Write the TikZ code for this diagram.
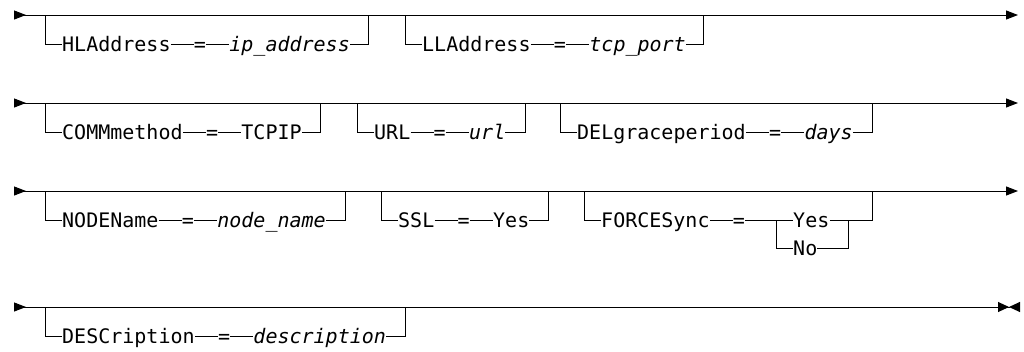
\documentclass[tikz,border=0pt]{standalone}
\usepackage{fontspec}
\setmonofont{DejaVu Sans Mono}
\usetikzlibrary{arrows.meta,positioning,calc}
\tikzset{
  rail/.style={line width=1pt},
  mainrail/.style={rail, {Triangle[reversed,length=12pt,width=9pt]}-{Triangle[length=12pt,width=9pt]}},
  lastrail/.style={rail, {Triangle[reversed,length=12pt,width=9pt]}-{Triangle[length=11pt,width=10pt,sep=0pt]Triangle[reversed,length=11pt,width=10pt]}},
  kw/.style={inner sep=0pt, text height=14pt, text depth=0pt, font=\ttfamily\fontsize{20}{21}\selectfont},
  var/.style={kw, font=\ttfamily\itshape\fontsize{20}{21}\selectfont},
}
% optional keyword branch: name, left x, main y, keyword, value style, value, right x
\newcommand{\optbranch}[7]{%
  \coordinate (#1top) at (#2,#3);
  \coordinate (#1end) at (#7,#3);
  \node[kw, anchor=west] (#1key) at (#2+17,#3+29) {#4};
  \node[kw, right=23pt of #1key] (#1eq) {=};
  \node[#5, right=23pt of #1eq] (#1val) {#6};
  \draw[rail] (#1top) |- (#1key);
  \draw[rail] (#1key) -- (#1eq);
  \draw[rail] (#1eq) -- (#1val);
  \draw[rail] (#1val) -| (#1end);
}
\begin{document}
\begin{tikzpicture}[x=1pt,y=-1pt]
  \useasboundingbox (0,0) rectangle (1024,351);
  % main lines
  \foreach \row/\y in {r1/15, r2/103, r3/191} {
    \coordinate (\row s) at (14,\y);
    \coordinate (\row e) at (1018,\y);
    \draw[mainrail] (\row s) -- (\row e);
  }
  \coordinate (r4s) at (14,307);
  \coordinate (r4e) at (1020,307);
  \draw[lastrail] (r4s) -- (r4e);
  % row 1
  \optbranch{hla}{45}{15}{HLAddress}{var}{ip\_address}{368}
  \optbranch{lla}{405}{15}{LLAddress}{var}{tcp\_port}{703}
  % row 2
  \optbranch{comm}{45}{103}{COMMmethod}{kw}{TCPIP}{320}
  \optbranch{url}{357}{103}{URL}{var}{url}{525}
  \optbranch{delg}{560}{103}{DELgraceperiod}{var}{days}{872}
  % row 3
  \optbranch{nn}{45}{191}{NODEName}{var}{node\_name}{345}
  \optbranch{ssl}{381}{191}{SSL}{kw}{Yes}{548}
  \coordinate (fstop) at (584,191);
  \coordinate (fsend) at (872,191);
  \node[kw, anchor=west] (fskey) at (601,220) {FORCESync};
  \node[kw, right=23pt of fskey] (fseq) {=};
  \coordinate (fsfork) at (776,220);
  \node[kw, right=17pt of fsfork] (fsyes) {Yes};
  \node[kw, anchor=west] (fsno) at ($(fsyes.west)+(0,28)$) {No};
  \coordinate (fsjoin) at (848,220);
  \draw[rail] (fstop) |- (fskey);
  \draw[rail] (fskey) -- (fseq);
  \draw[rail] (fseq) -- (fsyes);
  \draw[rail] (fsfork) |- (fsno);
  \draw[rail] (fsyes) -- (fsjoin);
  \draw[rail] (fsno) -| (fsjoin);
  \draw[rail] (fsjoin) -| (fsend);
  % row 4
  \optbranch{desc}{45}{307}{DESCription}{var}{description}{405}
\end{tikzpicture}
\end{document}
